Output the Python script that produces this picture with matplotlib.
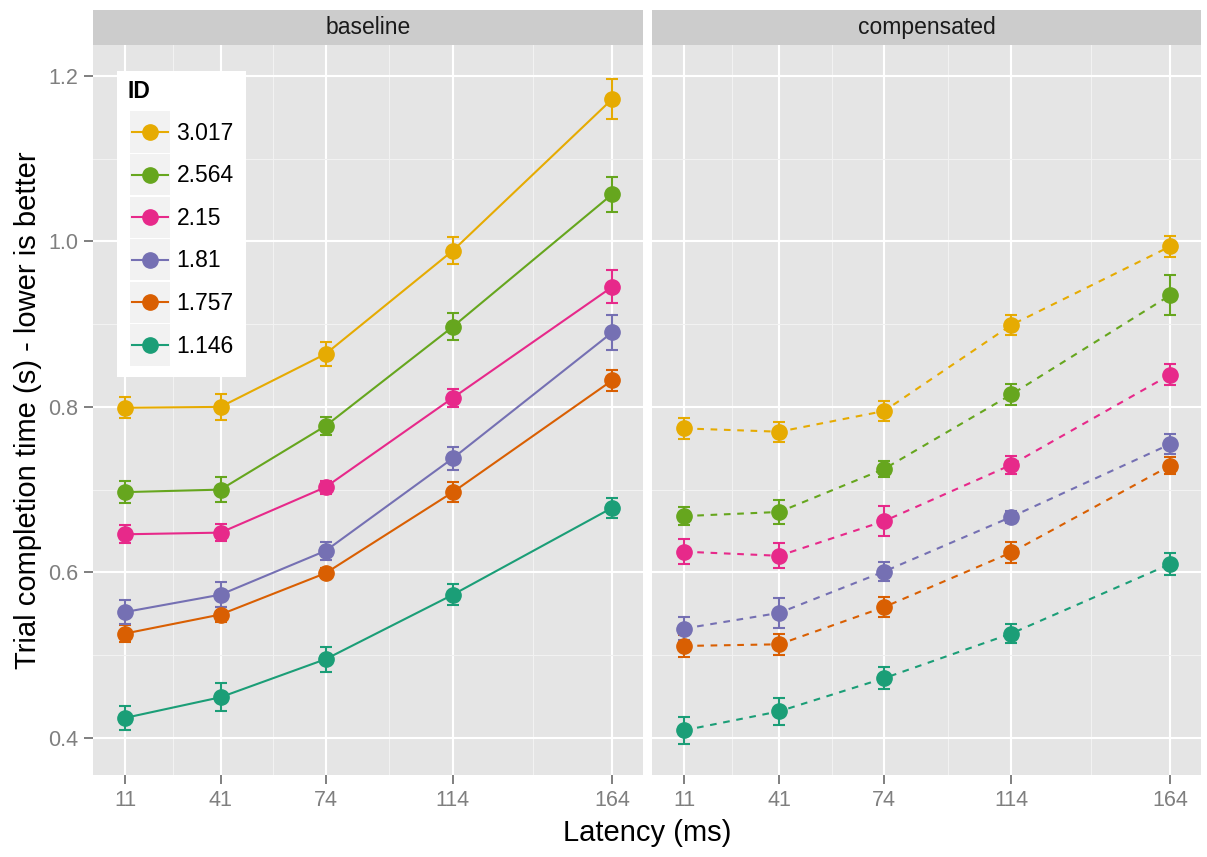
import numpy as np
import matplotlib
matplotlib.use("Agg")
import matplotlib.pyplot as plt
from matplotlib.patches import Rectangle

plt.rcParams['font.family'] = ['Liberation Sans', 'DejaVu Sans']

# ------------------ Data ------------------
latency = [11, 41, 74, 114, 164]
ids = ['3.017', '2.564', '2.15', '1.81', '1.757', '1.146']
colors = ['#E6AB02', '#66A61E', '#E7298A', '#7570B3', '#D95F02', '#1B9E77']
panels = ['baseline', 'compensated']

base_mean = [
    [0.799, 0.800, 0.864, 0.989, 1.172],
    [0.697, 0.700, 0.777, 0.897, 1.057],
    [0.646, 0.648, 0.703, 0.811, 0.945],
    [0.552, 0.573, 0.626, 0.738, 0.890],
    [0.526, 0.549, 0.599, 0.697, 0.832],
    [0.424, 0.449, 0.495, 0.573, 0.678],
]
base_err = [
    [0.013, 0.016, 0.015, 0.016, 0.024],
    [0.013, 0.015, 0.011, 0.016, 0.021],
    [0.011, 0.010, 0.008, 0.011, 0.020],
    [0.014, 0.015, 0.011, 0.014, 0.021],
    [0.010, 0.009, 0.006, 0.012, 0.013],
    [0.014, 0.017, 0.015, 0.013, 0.012],
]
comp_mean = [
    [0.774, 0.770, 0.795, 0.899, 0.994],
    [0.668, 0.673, 0.725, 0.815, 0.935],
    [0.625, 0.620, 0.662, 0.730, 0.839],
    [0.532, 0.551, 0.601, 0.667, 0.755],
    [0.511, 0.513, 0.558, 0.624, 0.729],
    [0.409, 0.432, 0.472, 0.526, 0.610],
]
comp_err = [
    [0.013, 0.012, 0.012, 0.012, 0.013],
    [0.011, 0.015, 0.010, 0.013, 0.024],
    [0.015, 0.015, 0.018, 0.011, 0.013],
    [0.014, 0.018, 0.012, 0.007, 0.012],
    [0.013, 0.013, 0.012, 0.013, 0.010],
    [0.016, 0.016, 0.013, 0.011, 0.013],
]
y_ticks = [0.4, 0.6, 0.8, 1.0, 1.2]
y_minor = [0.5, 0.7, 0.9, 1.1]
x_minor = [26, 57.5, 94, 139]

# ------------------ Layout (pixels) ------------------
W, H = 1207, 857
fig = plt.figure(figsize=(W / 100, H / 100), dpi=100)
fig.patch.set_facecolor('white')

def fbox(x0, y0, x1, y1):
    return [x0 / W, 1 - y1 / H, (x1 - x0) / W, (y1 - y0) / H]

panel_px = [(93, 643), (652, 1201)]
top, bottom, strip_top = 45, 775, 10
tick_col = '#7F7F7F'

series = [(base_mean, base_err, '-'), (comp_mean, comp_err, (0, (3.2, 3.2)))]

for p, (x0, x1) in enumerate(panel_px):
    ax = fig.add_axes(fbox(x0, top, x1, bottom))
    ax.set_facecolor('#E5E5E5')
    for s in ax.spines.values():
        s.set_visible(False)
    ax.set_xlim(0.95, 173.7)
    ax.set_ylim(0.355, 1.2375)
    ax.set_xticks(latency)
    ax.set_xticks(x_minor, minor=True)
    ax.set_yticks(y_ticks)
    ax.set_yticks(y_minor, minor=True)
    ax.grid(True, which='major', color='white', linewidth=1.5)
    ax.grid(True, which='minor', color='#F2F2F2', linewidth=0.8)
    ax.set_axisbelow(True)
    ax.tick_params(which='minor', length=0)
    ax.tick_params(which='major', length=6.5, width=1.4, color=tick_col,
                   labelcolor=tick_col, labelsize=15.5, pad=4)
    ax.set_xticklabels([str(v) for v in latency])
    if p == 0:
        ax.set_yticklabels(['%.1f' % v for v in y_ticks])
    else:
        ax.tick_params(axis='y', left=False, labelleft=False)

    means, errs, ls = series[p]
    for i in range(len(ids) - 1, -1, -1):
        ax.errorbar(latency, means[i], yerr=errs[i], fmt='none', ecolor=colors[i],
                    elinewidth=1.5, capsize=4.6, capthick=1.5, zorder=3)
        ax.plot(latency, means[i], color=colors[i], linewidth=1.5, linestyle=ls, zorder=3)
        ax.plot(latency, means[i], 'o', color=colors[i], markersize=11, zorder=4)

    # facet strip
    sax = fig.add_axes(fbox(x0, strip_top, x1, top))
    sax.set_facecolor('#CCCCCC')
    sax.set_xticks([])
    sax.set_yticks([])
    for s in sax.spines.values():
        s.set_visible(False)
    sax.text(0.5, 0.5, panels[p], ha='center', va='center', fontsize=16.5,
             color='#1A1A1A', transform=sax.transAxes)

# ------------------ Axis titles ------------------
fig.text(647 / W, 1 - 833 / H, 'Latency (ms)', ha='center', va='center', fontsize=21)
fig.text(28 / W, 1 - 410 / H, 'Trial completion time (s) - lower is better',
         ha='center', va='center', rotation=90, fontsize=21)

# ------------------ Legend ------------------
lx0, ly0, lx1, ly1 = 117, 71, 246, 377
lax = fig.add_axes(fbox(lx0, ly0, lx1, ly1))
lax.set_xlim(0, lx1 - lx0)
lax.set_ylim(ly1 - ly0, 0)
lax.set_facecolor('white')
lax.set_xticks([])
lax.set_yticks([])
for s in lax.spines.values():
    s.set_visible(False)
lax.text(10.5, 20, 'ID', fontsize=16.5, fontweight='bold', va='center', ha='left')
key_h = 42.6
for i, lab in enumerate(ids):
    ky = 39.7 + i * key_h
    lax.add_patch(Rectangle((12.7, ky + 0.7), 40.3, key_h - 1.4, facecolor='#F2F2F2',
                            edgecolor='none'))
    cy = ky + key_h / 2
    lax.plot([15, 50.5], [cy, cy], color=colors[i], linewidth=1.5)
    lax.plot([32.8], [cy], 'o', color=colors[i], markersize=11)
    lax.text(59.5, cy + 1, lab, fontsize=16.5, va='center', ha='left')

fig.savefig('out.png', dpi=100)
